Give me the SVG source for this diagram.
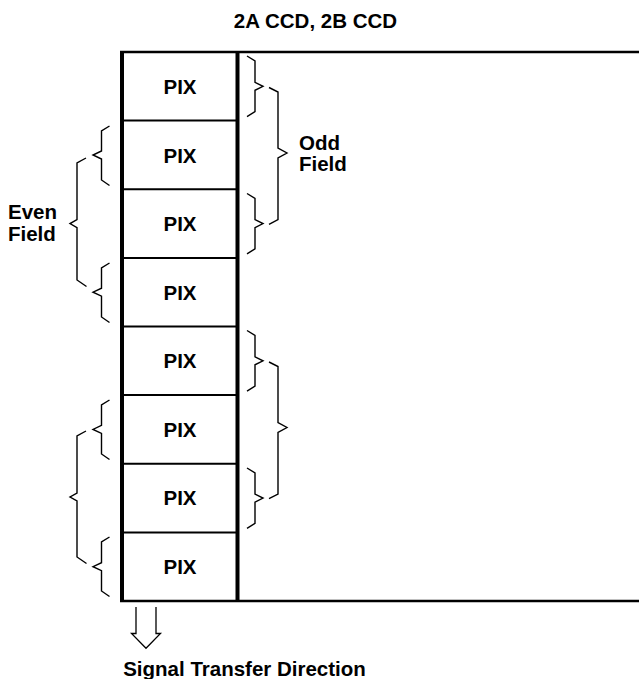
<svg xmlns="http://www.w3.org/2000/svg" width="639" height="679" viewBox="0 0 639 679">
<style>
  .t { font-family: "Liberation Sans", Arial, sans-serif; font-weight: bold; font-size: 20.5px; fill: #000; }
  .pix { text-anchor: middle; }
  .br { fill: none; stroke: #000; stroke-width: 1.4; stroke-linejoin: miter; }
  .thin { stroke: #000; stroke-width: 2; }
  .thick { stroke: #000; stroke-width: 4; }
  .edge { stroke: #000; stroke-width: 2.6; }
</style>
<rect width="639" height="679" fill="#fff"/>
<text class="t" x="315.5" y="28" text-anchor="middle">2A CCD, 2B CCD</text>
<g id="frame">
  <line class="edge" x1="120" y1="52" x2="639" y2="52"/>
  <line class="edge" x1="120" y1="601" x2="639" y2="601"/>
  <line class="thick" x1="122" y1="51" x2="122" y2="602"/>
  <line class="thick" x1="237.5" y1="51" x2="237.5" y2="602"/>
</g>
<g id="pix1"><text class="t pix" x="180" y="94">PIX</text></g>
<g id="pix2"><line class="thin" x1="122" y1="120.6" x2="237.5" y2="120.6"/><text class="t pix" x="180" y="162.5">PIX</text></g>
<g id="pix3"><line class="thin" x1="122" y1="189.25" x2="237.5" y2="189.25"/><text class="t pix" x="180" y="231">PIX</text></g>
<g id="pix4"><line class="thin" x1="122" y1="257.9" x2="237.5" y2="257.9"/><text class="t pix" x="180" y="299.5">PIX</text></g>
<g id="pix5"><line class="thin" x1="122" y1="326.5" x2="237.5" y2="326.5"/><text class="t pix" x="180" y="368">PIX</text></g>
<g id="pix6"><line class="thin" x1="122" y1="395.1" x2="237.5" y2="395.1"/><text class="t pix" x="180" y="436.5">PIX</text></g>
<g id="pix7"><line class="thin" x1="122" y1="463.75" x2="237.5" y2="463.75"/><text class="t pix" x="180" y="505">PIX</text></g>
<g id="pix8"><line class="thin" x1="122" y1="532.4" x2="237.5" y2="532.4"/><text class="t pix" x="180" y="574">PIX</text></g>
<g id="odd-label"><text class="t" x="299" y="149.5">Odd</text><text class="t" x="299" y="171">Field</text></g>
<g id="even-label"><text class="t" x="8" y="218.5">Even</text><text class="t" x="8" y="241">Field</text></g>
<g id="connectors">
  <!-- right small braces rows 1,3,5,7 -->
  <path class="br" d="M247,56 L255,61 L255,82.3 L263,86.3 L255,90.3 L255,111.6 L247,116.6"/>
  <path class="br" d="M247,193.5 L255,198.5 L255,219.6 L263,223.6 L255,227.6 L255,248.9 L247,253.9"/>
  <path class="br" d="M247,330.5 L255,335.5 L255,356.8 L263,360.8 L255,364.8 L255,386.1 L247,391.1"/>
  <path class="br" d="M247,468 L255,473 L255,494.1 L263,498.1 L255,502.1 L255,523.4 L247,528.4"/>
  <!-- right big braces -->
  <path class="br" d="M269,87.5 L278,92 L278,148 L287,153 L278,158 L278,219.6 L269,224.3"/>
  <path class="br" d="M269,362 L278,366.5 L278,422.5 L287,427.5 L278,432.5 L278,494 L269,498.7"/>
  <!-- left small braces rows 2,4,6,8 -->
  <path class="br" d="M109.5,126 L101.5,131 L101.5,151 L93,155 L101.5,159 L101.5,180 L109.5,185.5"/>
  <path class="br" d="M109.5,263 L101.5,268 L101.5,288.2 L93,292.2 L101.5,296.2 L101.5,317 L109.5,322.5"/>
  <path class="br" d="M109.5,400 L101.5,405 L101.5,425.4 L93,429.4 L101.5,433.4 L101.5,454 L109.5,459.5"/>
  <path class="br" d="M109.5,537 L101.5,542 L101.5,562.7 L93,566.7 L101.5,570.7 L101.5,591 L109.5,596.5"/>
  <!-- left big braces -->
  <path class="br" d="M86,158 L77,163 L77,219.6 L70,223.6 L77,227.6 L77,280 L86.5,286.5"/>
  <path class="br" d="M86,431 L77,436 L77,493 L70,497 L77,501 L77,557 L86.5,563.5"/>
</g>
<g id="arrow">
  <path d="M136,607 L136,633.5 L131.5,633.5 L146,648.3 L160.5,633.5 L156,633.5 L156,607" fill="#fff" stroke="#000" stroke-width="1.3"/>
</g>
<text class="t" x="244.5" y="676" text-anchor="middle">Signal Transfer Direction</text>
</svg>
